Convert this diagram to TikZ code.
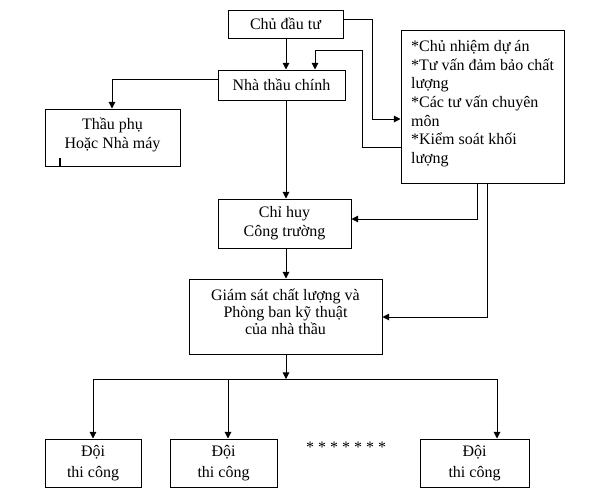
\documentclass[tikz,border=0pt]{standalone}
\usepackage{fontspec}
\setmainfont{Liberation Serif}
\usetikzlibrary{arrows.meta}
\tikzset{
  box/.style={draw, line width=0.75pt, inner sep=0pt, align=center, font=\fontsize{12pt}{14pt}\selectfont},
  conn/.style={line width=0.75pt},
  arr/.style={conn, -{Triangle[length=5pt,width=5pt]}},
  plain/.style={inner sep=0pt, font=\fontsize{12pt}{14pt}\selectfont}
}
\begin{document}
\begin{tikzpicture}[x=0.75pt,y=-0.75pt]
\useasboundingbox[fill=white] (0,0) rectangle (613,500);
% boxes
\node[box, minimum width=86.25pt, minimum height=21pt] (cdt) at (285.5,24) {Chủ đầu tư};
\node[box, minimum width=95.25pt, minimum height=22.5pt] (ntc) at (281.5,85) {Nhà thầu chính};
\node[box, minimum width=101.25pt, minimum height=42.75pt] (tp) at (112.5,137.5) {Thầu phụ\\Hoặc Nhà máy\\[-8pt]};
\node[box, minimum width=122.25pt, minimum height=114.75pt, align=left] (rb) at (482.5,106.5)
  {*Chủ nhiệm dự án\\{}*Tư vấn đảm bảo chất\\lượng\\{}*Các tư vấn chuyên\\môn\\{}*Kiểm soát khối\\lượng\\[-7pt]};
\node[box, minimum width=99.75pt, minimum height=36.75pt] (ch) at (284.5,223.5) {Chỉ huy\\Công trường};
\node[box, minimum width=144.75pt, minimum height=56.25pt] (gs) at (285.5,316.5)
  {Giám sát chất lượng và\\[-1.5pt]Phòng ban kỹ thuật\\[-1.5pt]của nhà thầu\\[-7pt]};
\node[box, minimum width=72pt, minimum height=36pt] (d1) at (93,463) {Đội\\[2pt]thi công};
\node[box, minimum width=80.25pt, minimum height=36pt] (d2) at (223.5,463) {Đội\\[2pt]thi công};
\node[box, minimum width=81.75pt, minimum height=36pt] (d3) at (474.5,463) {Đội\\[2pt]thi công};
\node[plain, anchor=base] (st) at (346,452) {* * * * * * *};
% helper coordinates
\coordinate (mx) at (286,0);
\coordinate (a1) at (362,147);
\coordinate (a2) at (362,50);
\coordinate (a3) at (315,50);
\coordinate (b1) at (372,19);
\coordinate (b2) at (372,119);
\coordinate (c1) at (112,79);
\coordinate (e1) at (477,219);
\coordinate (f1) at (487,317);
\coordinate (g) at (286,379);
\coordinate (h1) at (93,379);
\coordinate (h2) at (228,379);
\coordinate (h3) at (497,379);
\coordinate (t1) at (60,158);
\coordinate (t2) at (60,166);
% connectors
\draw[arr] (mx |- cdt.south) -- (mx |- ntc.north);
\draw[arr] (rb.west |- a1) -- (a1) -- (a2) -- (a3) -- (a3 |- ntc.north);
\draw[arr] (cdt.east |- b1) -- (b1) -- (b2) -- (rb.west |- b2);
\draw[arr] (ntc.west |- c1) -- (c1) -- (c1 |- tp.north);
\draw[arr] (mx |- ntc.south) -- (mx |- ch.north);
\draw[arr] (e1 |- rb.south) -- (e1) -- (ch.east |- e1);
\draw[arr] (f1 |- rb.south) -- (f1) -- (gs.east |- f1);
\draw[arr] (mx |- ch.south) -- (mx |- gs.north);
\draw[arr] (mx |- gs.south) -- (g);
\draw[conn] (h1) -- (h3);
\draw[arr] (h1) -- (h1 |- d1.north);
\draw[arr] (h2) -- (h2 |- d2.north);
\draw[arr] (h3) -- (h3 |- d3.north);
\draw[line width=1.3pt] (t1) -- (t2);
\end{tikzpicture}
\end{document}
